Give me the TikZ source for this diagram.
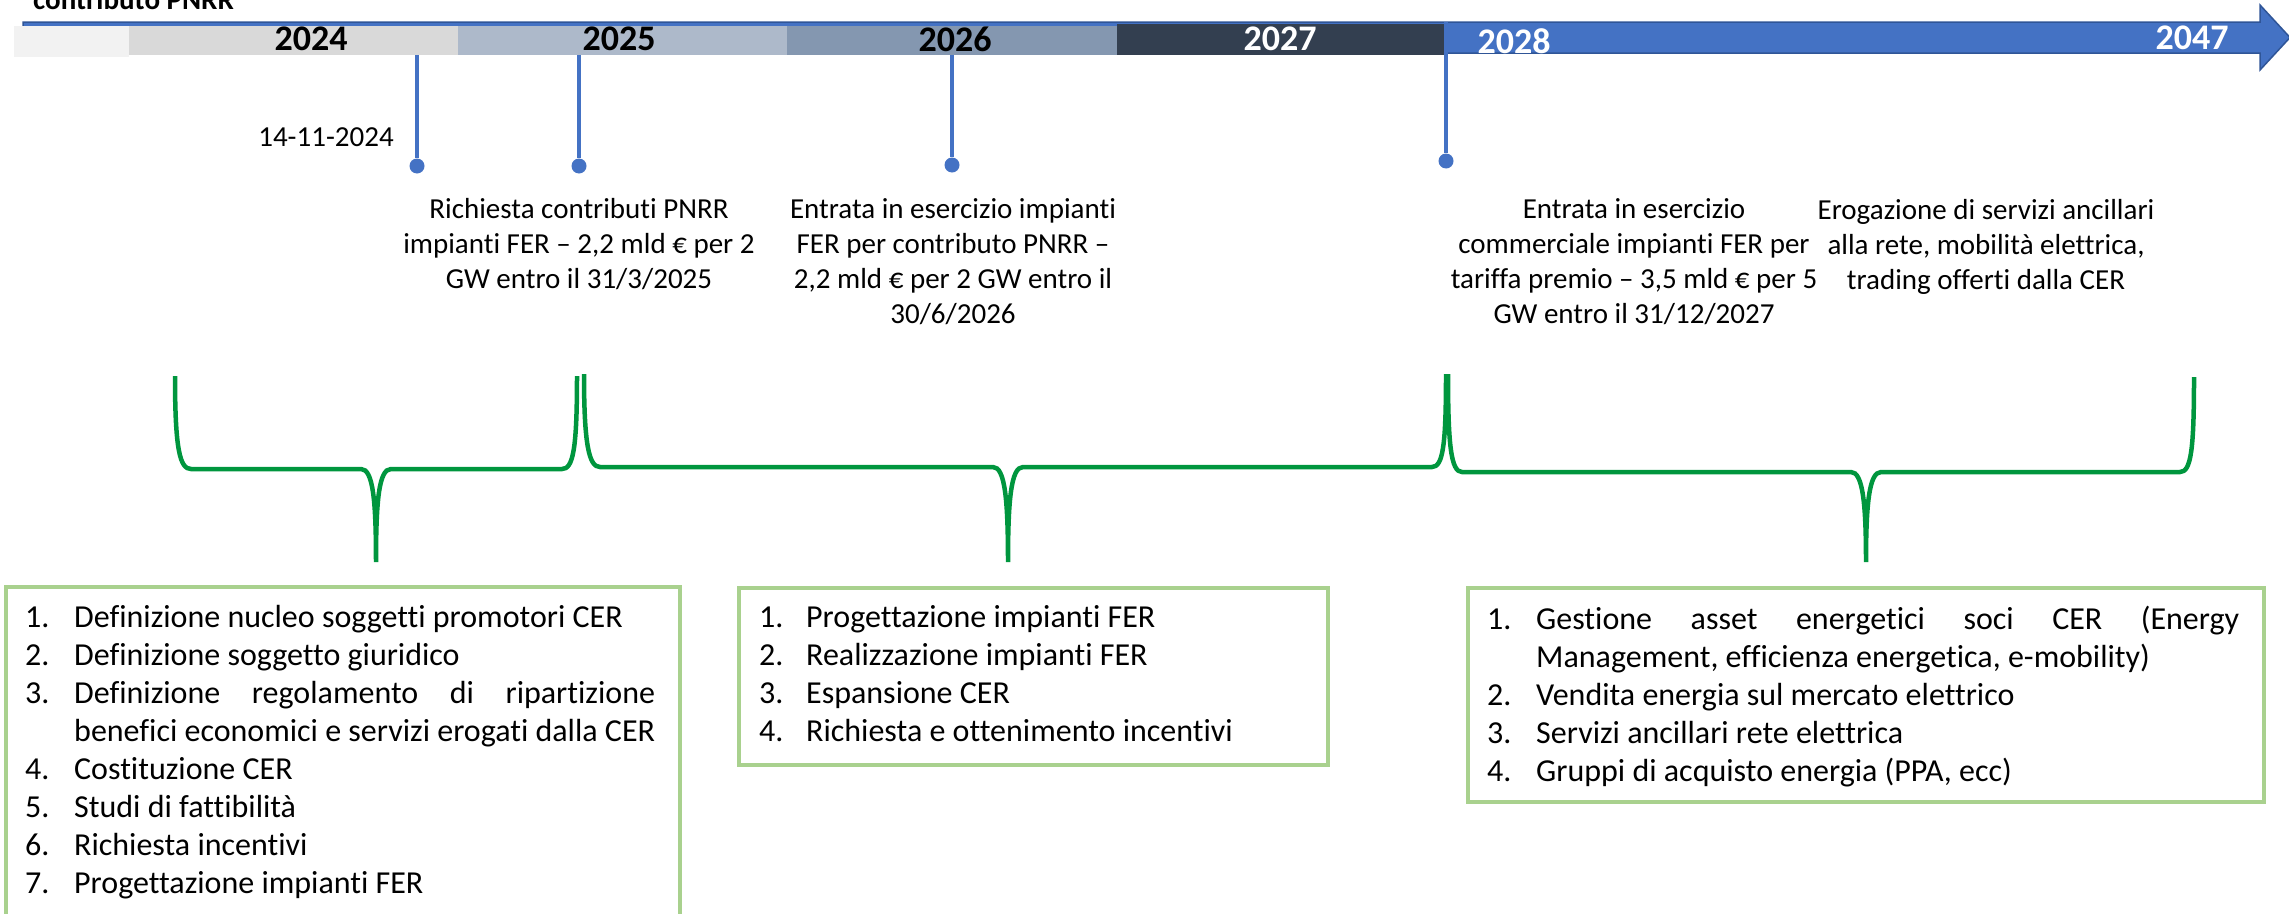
\documentclass[tikz,border=0pt]{standalone}
\usepackage{fontspec}
\setmainfont[Ligatures=NoCommon]{Carlito}
\definecolor{segA}{HTML}{F2F2F2}
\definecolor{segB}{HTML}{D9D9D9}
\definecolor{segC}{HTML}{ADB9CA}
\definecolor{segD}{HTML}{8497B0}
\definecolor{segE}{HTML}{333F50}
\definecolor{mblue}{HTML}{4472C4}
\definecolor{dblue}{HTML}{2F5597}
\definecolor{bgreen}{HTML}{00963E}
\definecolor{lgreen}{HTML}{A9D18E}
\newcommand\numit[1]{\makebox[49pt][l]{#1}}
\newcommand\numitb[1]{\makebox[47pt][l]{#1}}
\begin{document}
\begin{tikzpicture}[x=1pt,y=-1pt,
  yearlbl/.style={font=\fontsize{36}{40}\selectfont\bfseries, inner sep=0, anchor=center},
  mline/.style={draw=mblue, line width=3.3pt},
  mdot/.style={circle, fill=mblue, draw=none, inner sep=0, minimum size=15pt},
  bracepath/.style={draw=bgreen, line width=4.5pt},
  listframe/.style={draw=lgreen, line width=3.5pt, inner sep=0, anchor=north west},
  txt/.style={inner sep=0, anchor=base},
  listtxt/.style={inner sep=0, anchor=base west}
]
\useasboundingbox (0,0) rectangle (2289,913);
\clip (0,0) rectangle (2289,913);

% cut title
\node[listtxt, font=\fontsize{29}{35}\selectfont\bfseries] (title) at (33,9) {contributo PNRR};

% arrow body
\path[fill=mblue, draw=dblue, line width=1.5pt] (23,22) -- (2260,22) -- (2260,5) -- (2290,37.5) -- (2260,70) -- (2260,53) -- (23,53) -- cycle;

% segments
\fill[segA] (14,26) rectangle (129,57);
\fill[segB] (129,26) rectangle (458,55);
\fill[segC] (458,26) rectangle (787,55);
\fill[segD] (787,26) rectangle (1117,55);
\fill[segE] (1117,24) rectangle (1446,55);

% years
\node[yearlbl] (y2024) at (311,39) {2024};
\node[yearlbl] (y2025) at (619,39) {2025};
\node[yearlbl] (y2026) at (955,39) {2026};
\node[yearlbl, text=white] (y2027) at (1280,39) {2027};
\node[yearlbl, text=white] (y2028) at (1514,41) {2028};
\node[yearlbl, text=white] (y2047) at (2192,38) {2047};

% markers
\coordinate (m1) at (417,55);
\coordinate (m2) at (579,55);
\coordinate (m3) at (952,55);
\coordinate (m4) at (1446,22);
\node[mdot] (d1) at (417,166) {};
\node[mdot] (d2) at (579,166) {};
\node[mdot] (d3) at (952,165) {};
\node[mdot] (d4) at (1446,161) {};
\draw[mline] (m1) -- (d1);
\draw[mline] (m2) -- (d2);
\draw[mline] (m3) -- (d3);
\draw[mline] (m4) -- (d4);

% milestone labels
\node[txt] (date) at (326,146) {\fontsize{29}{35}\selectfont 14-11-2024};
\node[txt] (lab1) at (579,218) {\parbox[t]{420pt}{\fontsize{29}{35}\selectfont\centering Richiesta contributi PNRR\\impianti FER – 2,2 mld € per 2\\GW entro il 31/3/2025}};
\node[txt] (lab2) at (953,218) {\parbox[t]{420pt}{\fontsize{29}{35}\selectfont\centering Entrata in esercizio impianti\\FER per contributo PNRR –\\2,2 mld € per 2 GW entro il\\30/6/2026}};
\node[txt] (lab3) at (1634,218) {\parbox[t]{420pt}{\fontsize{29}{35}\selectfont\centering Entrata in esercizio\\commerciale impianti FER per\\tariffa premio – 3,5 mld € per 5\\GW entro il 31/12/2027}};
\node[txt] (lab4) at (1986,219) {\parbox[t]{420pt}{\fontsize{29}{35}\selectfont\centering Erogazione di servizi ancillari\\alla rete, mobilità elettrica,\\trading offerti dalla CER}};

% braces
\draw[bracepath] (175,376) .. controls (175,450) and (180,469) .. (191,469) -- (361,469) .. controls (373,469) and (376,500) .. (376,562) .. controls (376,500) and (379,469) .. (391,469) -- (562,469) .. controls (573,469) and (577,450) .. (577,376);
\draw[bracepath] (584,374) .. controls (584,445) and (589,467) .. (600,467) -- (993,467) .. controls (1005,467) and (1008,500) .. (1008,562) .. controls (1008,500) and (1011,467) .. (1023,467) -- (1432,467) .. controls (1443,467) and (1446,445) .. (1446,374);
\draw[bracepath] (1448,374) .. controls (1448,445) and (1451,472) .. (1462,472) -- (1851,472) .. controls (1863,472) and (1866,505) .. (1866,562) .. controls (1866,505) and (1869,472) .. (1881,472) -- (2180,472) .. controls (2191,472) and (2194,450) .. (2194,377);

% list frames
\node[listframe, minimum width=674pt, minimum height=360pt] (box1) at (4,585) {};
\node[listframe, minimum width=589pt, minimum height=177pt] (box2) at (737,586) {};
\node[listframe, minimum width=796pt, minimum height=214pt] (box3) at (1466,586) {};

% list texts
\node[listtxt] (list1) at (25,627) {\parbox[t]{640pt}{\fontsize{32}{38}\selectfont
\numit{1.}Definizione nucleo soggetti promotori CER\\
\numit{2.}Definizione soggetto giuridico\\
\numit{3.}\makebox[581pt][s]{Definizione regolamento di ripartizione}\\
\hspace*{49pt}benefici economici e servizi erogati dalla CER\\
\numit{4.}Costituzione CER\\
\numit{5.}Studi di fattibilità\\
\numit{6.}Richiesta incentivi\\
\numit{7.}Progettazione impianti FER}};
\node[listtxt] (list2) at (759,627) {\parbox[t]{560pt}{\fontsize{32}{38}\selectfont
\numitb{1.}Progettazione impianti FER\\
\numitb{2.}Realizzazione impianti FER\\
\numitb{3.}Espansione CER\\
\numitb{4.}Richiesta e ottenimento incentivi}};
\node[listtxt] (list3) at (1487,629) {\parbox[t]{770pt}{\fontsize{32}{38}\selectfont
\numit{1.}\makebox[703pt][s]{Gestione asset energetici soci CER (Energy}\\
\hspace*{49pt}Management, efficienza energetica, e-mobility)\\
\numit{2.}Vendita energia sul mercato elettrico\\
\numit{3.}Servizi ancillari rete elettrica\\
\numit{4.}Gruppi di acquisto energia (PPA, ecc)}};
\end{tikzpicture}
\end{document}
